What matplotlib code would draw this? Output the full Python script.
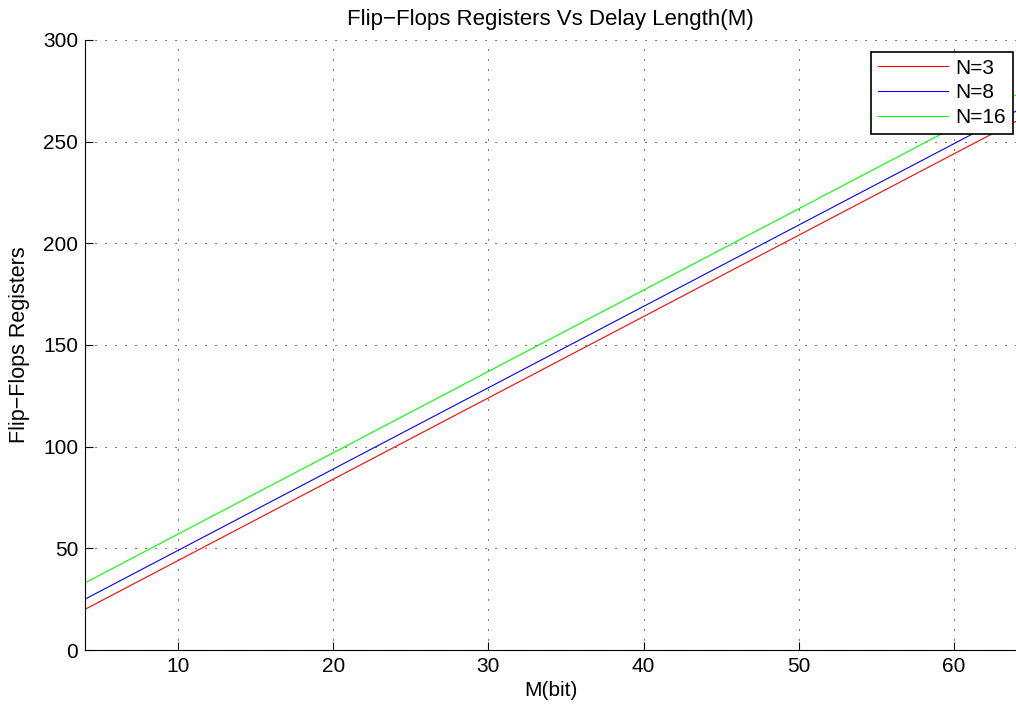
import matplotlib.pyplot as plt

plt.rcParams['font.family'] = ['Liberation Sans', 'DejaVu Sans']

# delay length M (bit) and flip-flop counts
m_bits = [4, 16, 32, 48, 64]
ff_n3 = [20, 68, 132, 196, 260]
ff_n8 = [25, 73, 137, 201, 265]
ff_n16 = [33, 81, 145, 209, 273]

fig = plt.figure(figsize=(10.16, 7.10), dpi=100)
ax = fig.add_axes([85 / 1016, 60 / 710, 931 / 1016, 610 / 710])

ax.plot(m_bits, ff_n3, color='#ff0000', lw=0.8, label='N=3')
ax.plot(m_bits, ff_n8, color='#0000ff', lw=0.8, label='N=8')
ax.plot(m_bits, ff_n16, color='#00ff00', lw=0.8, label='N=16')

ax.set_xlim(4, 64)
ax.set_ylim(0, 300)
ax.set_xticks([10, 20, 30, 40, 50, 60])
ax.set_yticks([0, 50, 100, 150, 200, 250, 300])

# matlab-ish look: no box, inward ticks, dotted grid
ax.spines['top'].set_visible(False)
ax.spines['right'].set_visible(False)
ax.tick_params(direction='in', length=6, width=0.8, labelsize=15, pad=5)
ax.grid(True, color='black', lw=0.75, linestyle=(0, (1, 8.6)))

ax.set_title('Flip\u2212Flops Registers Vs Delay Length(M)', fontsize=16, pad=11)
ax.set_xlabel('M(bit)', fontsize=15, labelpad=4)
ax.set_ylabel('Flip\u2212Flops Registers', fontsize=15.5, labelpad=9)

leg = ax.legend(loc='upper right', bbox_to_anchor=(1 - 3 / 931, 1 - 12 / 610),
                borderaxespad=0, fontsize=15, handlelength=3.4, handletextpad=0.35,
                fancybox=False, framealpha=1, edgecolor='black',
                labelspacing=0.28, borderpad=0.32)
leg.get_frame().set_linewidth(1.2)

plt.savefig('out.png', dpi=100)
